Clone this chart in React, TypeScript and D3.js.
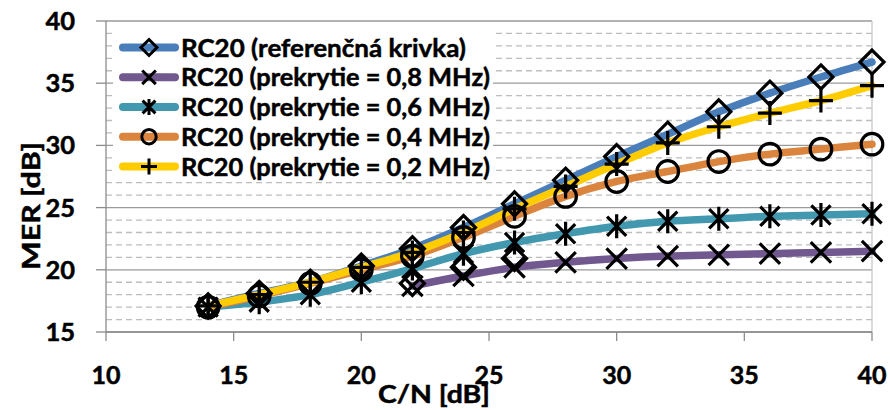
import React from "react";
import * as d3 from "d3";

const cn = [14, 16, 18, 20, 22, 24, 26, 28, 30, 32, 34, 36, 38, 40];
const refCurve = [17.1, 18.1, 19.0, 20.3, 21.7, 23.4, 25.3, 27.2, 29.1, 30.9, 32.7, 34.2, 35.5, 36.7];
const over08 = [null, null, null, null, 18.7, 19.5, 20.2, 20.6, 20.9, 21.1, 21.2, 21.3, 21.4, 21.5];
const over06 = [17.0, 17.4, 18.0, 19.0, 20.1, 21.3, 22.2, 22.9, 23.5, 23.9, 24.1, 24.3, 24.4, 24.5];
const over04 = [17.0, 17.9, 18.9, 20.0, 21.1, 22.6, 24.3, 25.9, 27.1, 27.9, 28.7, 29.3, 29.7, 30.1];
const over02 = [17.1, 18.0, 19.0, 20.2, 21.4, 23.0, 24.9, 26.7, 28.5, 30.2, 31.5, 32.6, 33.6, 34.8];
const extraDiamonds = [null, null, null, null, 18.9, 20.2, 20.9, null, null, null, null, null, null, null];

const seriesNames = [
  "RC20 (referenčná krivka)",
  "RC20 (prekrytie = 0,8 MHz)",
  "RC20 (prekrytie = 0,6 MHz)",
  "RC20 (prekrytie = 0,4 MHz)",
  "RC20 (prekrytie = 0,2 MHz)",
];
const seriesColors = ["#4A7EBB", "#71588F", "#4198AF", "#DB843D", "#FFCC00"];
const seriesMarkers = ["diamond", "x", "star", "circle", "plus"];
const seriesValues = [refCurve, over08, over06, over04, over02];

const xTicks = [10, 15, 20, 25, 30, 35, 40];
const yTicks = [15, 20, 25, 30, 35, 40];
const yMinor = d3.range(15, 41, 1);

const W = 890, H = 410;
const left = 106, right = 872, top = 21, bottom = 332;
const FONT = "Lato, 'Open Sans', sans-serif";
const textStyle = { fontFamily: FONT, fontWeight: 700, fill: "#000", stroke: "#000", strokeWidth: 0.5 } as any;

function Marker({ type, x, y, s, w = 3 }: { type: string; x: number; y: number; s: number; w?: number }) {
  const st = { stroke: "#000", strokeWidth: w, fill: "none" } as any;
  if (type === "diamond") {
    return <path d={`M${x},${y - s}L${x + s},${y}L${x},${y + s}L${x - s},${y}Z`} {...st} />;
  }
  if (type === "circle") {
    return <circle cx={x} cy={y} r={s * 0.9} {...st} />;
  }
  if (type === "x") {
    const k = s * 0.85;
    return <path d={`M${x - k},${y - k}L${x + k},${y + k}M${x - k},${y + k}L${x + k},${y - k}`} {...st} />;
  }
  if (type === "plus") {
    return <path d={`M${x - s},${y}L${x + s},${y}M${x},${y - s}L${x},${y + s}`} {...st} />;
  }
  const k = s * 0.8;
  return (
    <path
      d={`M${x - k},${y - k}L${x + k},${y + k}M${x - k},${y + k}L${x + k},${y - k}M${x},${y - s}L${x},${y + s}`}
      {...st}
    />
  );
}

export default function App() {
  const xs = d3.scaleLinear().domain([10, 40]).range([left, right]);
  const ys = d3.scaleLinear().domain([15, 40]).range([bottom, top]);
  const line = d3
    .line<[number, number | null]>()
    .defined((d) => d[1] != null)
    .x((d) => xs(d[0]))
    .y((d) => ys(d[1] as number))
    .curve(d3.curveCatmullRom.alpha(0.5));

  const legendRows = [47.5, 77.3, 107, 136.7, 166.5];
  const legendLens = [285, 309, 309, 309, 309];

  return (
    <svg width={W} height={H} style={{ position: "absolute", left: 0, top: 0, background: "#fff" }}>
      <rect x={0} y={0} width={W} height={H} fill="#fff" />
      {yMinor
        .filter((v) => v % 5 !== 0)
        .map((v) => (
          <line key={"m" + v} x1={left} x2={right} y1={ys(v)} y2={ys(v)} stroke="#BDBDBD" strokeWidth={1.3} strokeDasharray="6,4" />
        ))}
      {yTicks.map((v) => (
        <line key={"g" + v} x1={left} x2={right} y1={ys(v)} y2={ys(v)} stroke="#9A9A9A" strokeWidth={1.3} />
      ))}
      <line x1={right} x2={right} y1={top} y2={bottom} stroke="#C8C8C8" strokeWidth={1.3} />
      <line x1={left} x2={left} y1={top} y2={bottom} stroke="#8C8C8C" strokeWidth={1.3} />
      <line x1={left} x2={right} y1={bottom} y2={bottom} stroke="#8C8C8C" strokeWidth={1.3} />
      {xTicks.map((v) => (
        <line key={"xt" + v} x1={xs(v)} x2={xs(v)} y1={bottom} y2={bottom + 9} stroke="#8C8C8C" strokeWidth={1.3} />
      ))}
      {yTicks.map((v) => (
        <line key={"yt" + v} x1={left - 10} x2={left} y1={ys(v)} y2={ys(v)} stroke="#8C8C8C" strokeWidth={1.3} />
      ))}
      {xTicks.map((v) => (
        <text key={"xl" + v} x={xs(v)} y={384} textAnchor="middle" fontSize={25} {...textStyle}>
          {v}
        </text>
      ))}
      {yTicks.map((v) => (
        <text key={"yl" + v} x={75} y={ys(v) + 9} textAnchor="end" fontSize={25.5} {...textStyle}>
          {v}
        </text>
      ))}
      <text x={434} y={403} textAnchor="middle" fontSize={25} textLength={112} lengthAdjust="spacingAndGlyphs" {...textStyle}>
        C/N [dB]
      </text>
      <text
        transform={`translate(40,206) rotate(-90)`}
        textAnchor="middle"
        fontSize={25}
        textLength={128}
        lengthAdjust="spacingAndGlyphs"
        {...textStyle}
      >
        MER [dB]
      </text>
      <rect x={113} y={25} width={380} height={155} fill="#fff" />
      {seriesValues.map((vals, i) => (
        <path
          key={"l" + i}
          d={line(cn.map((c, j) => [c, vals[j]] as [number, number | null])) || ""}
          fill="none"
          stroke={seriesColors[i]}
          strokeWidth={7.5}
          strokeLinecap="round"
          strokeLinejoin="round"
        />
      ))}
      {seriesValues.map((vals, i) =>
        cn.map((c, j) =>
          vals[j] == null ? null : (
            <Marker key={`mk${i}-${j}`} type={seriesMarkers[i]} x={xs(c)} y={ys(vals[j] as number)} s={12} w={3.2} />
          )
        )
      )}
      {cn.map((c, j) =>
        extraDiamonds[j] == null ? null : (
          <Marker key={`ed${j}`} type="diamond" x={xs(c)} y={ys(extraDiamonds[j] as number)} s={12} w={3.2} />
        )
      )}
      {seriesNames.map((name, i) => (
        <g key={"lg" + i}>
          <line x1={123} x2={175} y1={legendRows[i]} y2={legendRows[i]} stroke={seriesColors[i]} strokeWidth={8} strokeLinecap="round" />
          <Marker type={seriesMarkers[i]} x={149} y={legendRows[i]} s={8} />
          <text
            x={181}
            y={legendRows[i] + 9}
            fontSize={25}
            textLength={legendLens[i]}
            lengthAdjust="spacingAndGlyphs"
            {...textStyle}
          >
            {name}
          </text>
        </g>
      ))}
    </svg>
  );
}
